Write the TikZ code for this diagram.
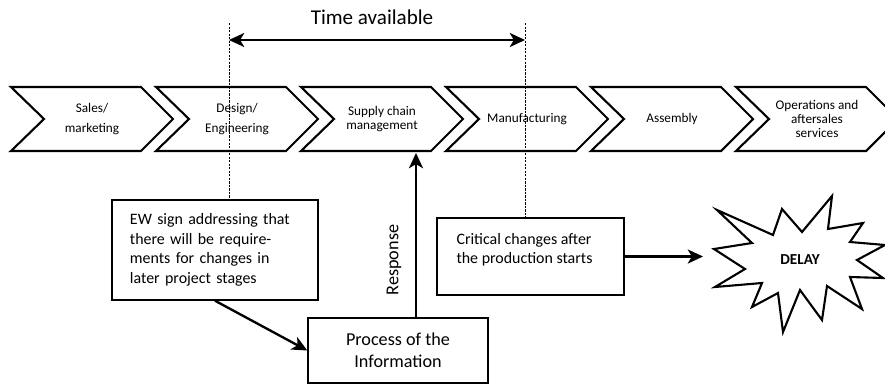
\documentclass[tikz,border=0pt]{standalone}
\usepackage{fontspec}
\setmainfont{Carlito}
\usetikzlibrary{positioning}
\usetikzlibrary{arrows.meta}

\begin{document}
\begin{tikzpicture}[x=0.03cm, y=-0.03cm,
    chev/.style={draw, line width=1.8pt, line join=miter},
    chevtext/.style={align=center, font=\fontsize{11.3}{12.3}\selectfont},
    infobox/.style={draw, line width=1.2pt},
    guide/.style={dash pattern=on 2pt off 1pt, line width=0.5pt},
    arr/.style={line width=2pt, -{Stealth[length=13pt, width=12pt, inset=3.5pt]}}]
    \useasboundingbox (0,0) rectangle (885,385);
    \clip (0,0) rectangle (885,385);

    % Prozesskette
    \foreach \i/\txt in {0/{Sales/\\[4.3pt]marketing}, 1/{Design/\\[4.3pt]Engineering}, 2/{Supply chain\\management}, 3/Manufacturing, 4/Assembly, 5/{Operations and\\aftersales\\services}}{
        \pgfmathsetmacro{\xa}{11+145*\i}
        \draw[chev] (\xa,87) -- ++(130,0) -- ++(32,32) -- ++(-32,32) -- ++(-130,0) -- ++(33,-32) -- cycle;
        \node[chevtext] (c\i) at (\xa+81,119) {\txt};
    }

    % Kaesten
    \node[infobox, text width=5.1cm, inner xsep=0.54cm, minimum height=3cm, align=left,
        font=\fontsize{13.6}{16.6}\selectfont] (ew) at (215,250)
        {EW sign addressing that\\there will be require-\\ments for changes in\\later project stages};
    \node[infobox, minimum width=5.61cm, minimum height=2.31cm] (crit) at (530.5,256.5) {};
    \node[anchor=west, inner sep=0pt, align=left, font=\fontsize{13.6}{16.2}\selectfont]
        (crittext) at ([xshift=0.6cm, yshift=0.21cm]crit.west) {Critical changes after\\the production starts};
    \node[infobox, minimum width=5.4cm, minimum height=1.95cm, align=center,
        font=\fontsize{15.5}{18.7}\selectfont] (proc) at (398,350.5) {Process of the\\Information};

    % Zeitfenster
    \coordinate (t1) at (229,23);
    \coordinate (t2) at (525,23);
    \coordinate (ta) at (229,40);
    \coordinate (tb) at (525,40);
    \draw[guide] (t1) -- (ew.north -| t1);
    \draw[guide] (t2) -- (crit.north -| t2);
    \draw[arr, {Stealth[length=13pt, width=12pt, inset=3.5pt]}-{Stealth[length=13pt, width=12pt, inset=3.5pt]}] (ta) -- (tb);
    \node[font=\fontsize{18}{21}\selectfont] (time) at (372,17) {Time available};

    % Verbindungen
    \coordinate (resptop) at (416,153);
    \draw[arr] (proc.north -| resptop) -- (resptop);
    \node[rotate=90, font=\fontsize{15.5}{18}\selectfont] (resp) at (394,260) {Response};
    \draw[arr] (ew.south) -- (proc.west);
    \coordinate (burst) at (703,256.5);
    \draw[arr] (crit.east) -- (burst);

    % Stern
    \draw[chev] (717,210) -- (773,235) -- (782,209) -- (802,232) -- (832,196) -- (828,229)
        -- (863,223) -- (850,242) -- (885,245) -- (857,260) -- (883,278) -- (850,277)
        -- (862,309) -- (827,286) -- (822,320) -- (800,290) -- (783,332) -- (778,293)
        -- (752,307) -- (762,283) -- (715,287) -- (745,269) -- (714,249) -- (752,243) -- cycle;
    \node[font=\bfseries\fontsize{13}{15}\selectfont] (delay) at (800,260) {DELAY};
\end{tikzpicture}
\end{document}
